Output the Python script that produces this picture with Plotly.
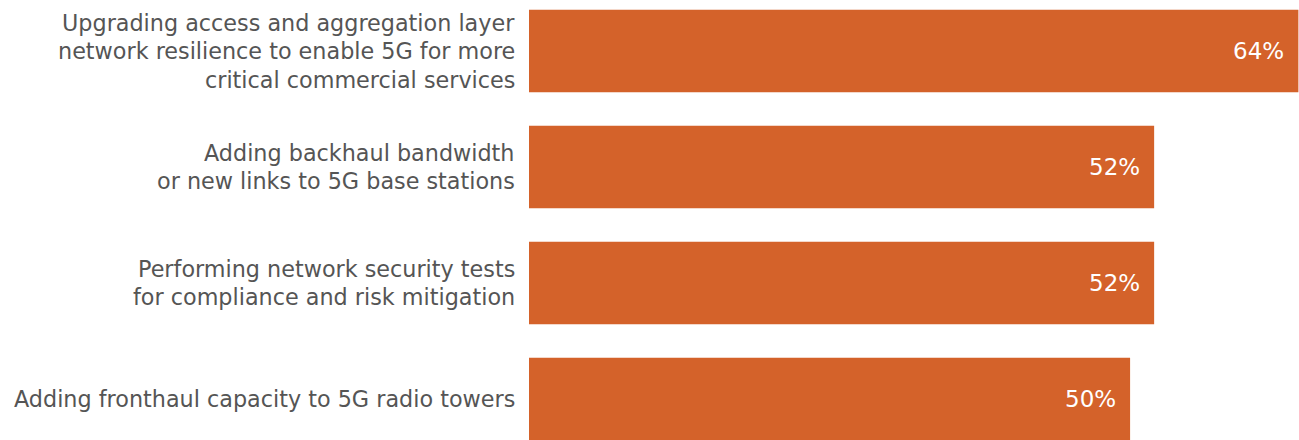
import plotly.graph_objects as go

categories = [
    "Upgrading access and aggregation layer<br>network resilience to enable 5G for more<br>critical commercial services",
    "Adding backhaul bandwidth<br>or new links to 5G base stations",
    "Performing network security tests<br>for compliance and risk mitigation",
    "Adding fronthaul capacity to 5G radio towers",
]
values = [64, 52, 52, 50]
value_labels = ["64%", "52%", "52%", "50%"]

BAR_COLOR = "#D4622A"
TEXT_COLOR = "#555555"
FONT = "DejaVu Sans"
LINE_H = 28.5

fig = go.Figure()
fig.add_trace(go.Bar(
    y=categories,
    x=values,
    orientation="h",
    marker=dict(color=BAR_COLOR, line=dict(width=0)),
    width=0.71,
    hoverinfo="skip",
))

for cat, v, lab in zip(categories, values, value_labels):
    fig.add_annotation(
        x=v, y=cat, text=lab, showarrow=False,
        xanchor="right", yanchor="middle", xshift=-12,
        font=dict(family=FONT, size=23, color="white"),
    )
    lines = cat.split("<br>")
    n = len(lines)
    for i, line in enumerate(lines):
        fig.add_annotation(
            xref="paper", x=0, y=cat, text=line, showarrow=False,
            xanchor="right", yanchor="middle", xshift=-12,
            yshift=((n - 1) / 2 - i) * LINE_H,
            font=dict(family=FONT, size=22.3, color=TEXT_COLOR),
        )

fig.update_layout(
    width=1299, height=440,
    margin=dict(l=529, r=0, t=0, b=0),
    paper_bgcolor="white", plot_bgcolor="white",
    showlegend=False,
    font=dict(family=FONT, size=22, color=TEXT_COLOR),
    xaxis=dict(range=[0, 64.05], visible=False, fixedrange=True),
    yaxis=dict(
        type="category",
        range=[3.353, -0.44],
        showgrid=False, zeroline=False, showline=False,
        showticklabels=False,
    ),
)

fig.write_html("out.html")
